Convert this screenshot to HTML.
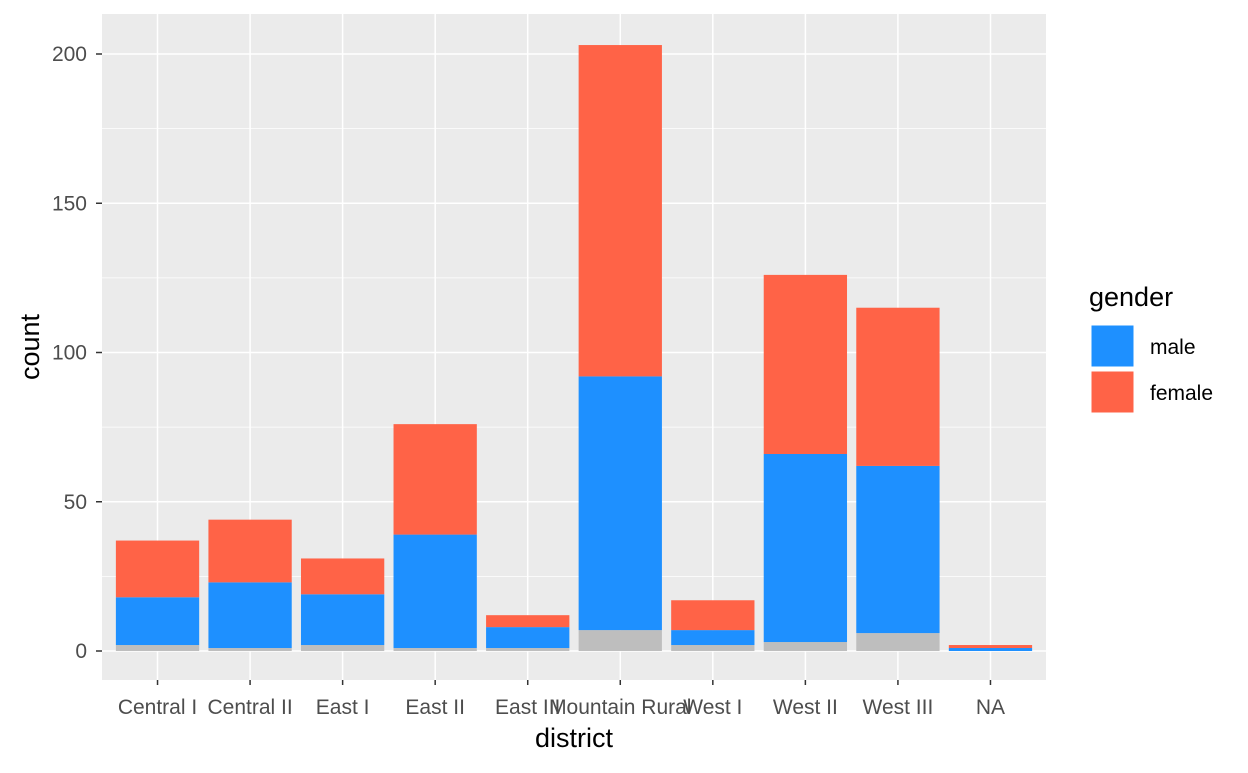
<!DOCTYPE html>
<html><head><meta charset="utf-8"><style>
body{margin:0;background:#fff;font-family:"Liberation Sans",Arial,sans-serif}
svg text{font-family:"Liberation Sans",Arial,sans-serif}
</style></head><body>
<svg id="c" width="1248" height="768"></svg>
<script>
const categories=["Central I","Central II","East I","East II","East III","Mountain Rural","West I","West II","West III","NA"];
const naCounts=[2,1,2,1,1,7,2,3,6,0];
const maleCounts=[16,22,17,38,7,85,5,63,56,1];
const femaleCounts=[19,21,12,37,4,111,10,60,53,1];
const yTicks=[0,50,100,150,200];
const yMinor=[25,75,125,175];
const NS="http://www.w3.org/2000/svg";
const svg=document.getElementById('c');
const PL=102,PR=1046,PT=14,PB=680;
const y=v=>651-v*2.985;
const x=i=>PL+(i+1-0.4)*(PR-PL)/10.2;
const bw=0.9*(PR-PL)/10.2;
function el(t,a,txt){const e=document.createElementNS(NS,t);for(const k in a)e.setAttribute(k,a[k]);if(txt!=null)e.textContent=txt;svg.appendChild(e);return e;}
let e=el('rect',{x:PL,y:PT,width:PR-PL,height:PB-PT,fill:'#EBEBEB'});


yMinor.forEach(v=>{const g=el('line',{x1:PL,x2:PR,y1:y(v),y2:y(v),stroke:'#fff','stroke-width':0.7});

});
yTicks.forEach(v=>{const g=el('line',{x1:PL,x2:PR,y1:y(v),y2:y(v),stroke:'#fff','stroke-width':1.5});


const t=el('text',{x:87,y:y(v)+7,'text-anchor':'end','font-size':21,fill:'#4D4D4D'},v);


const k=el('line',{x1:96,x2:PL,y1:y(v),y2:y(v),stroke:'#333','stroke-width':1.5});

});
categories.forEach((c,i)=>{const g=el('line',{x1:x(i),x2:x(i),y1:PT,y2:PB,stroke:'#fff','stroke-width':1.5});

});
const series=[[naCounts,'#BEBEBE','na'],[maleCounts,'#1E90FF','male'],[femaleCounts,'#FF6347','female']];
categories.forEach((c,i)=>{let base=0;series.forEach(([arr,col,n])=>{const v=arr[i];if(v>0){const r=el('rect',{x:x(i)-bw/2,y:y(base+v),width:bw,height:y(base)-y(base+v),fill:col});

}base+=v;});
const k=el('line',{x1:x(i),x2:x(i),y1:PB,y2:PB+5,stroke:'#333','stroke-width':1.5});


const t=el('text',{x:x(i),y:714,'text-anchor':'middle','font-size':21,fill:'#4D4D4D'},c);

});
e=el('text',{x:574,y:747,'text-anchor':'middle','font-size':27,fill:'#000'},'district');


e=el('text',{x:39,y:347,'text-anchor':'middle','font-size':27,fill:'#000',transform:'rotate(-90 39 347)'},'count');


e=el('text',{x:1089,y:306,'font-size':27,fill:'#000'},'gender');


[['male','#1E90FF',325],['female','#FF6347',371]].forEach(([n,col,yy])=>{const r=el('rect',{x:1091,y:yy,width:43,height:42,fill:col,stroke:'#fff','stroke-width':1});


const t=el('text',{x:1150,y:yy+29,'font-size':21,fill:'#000'},n);

});
</script>
</body></html>
